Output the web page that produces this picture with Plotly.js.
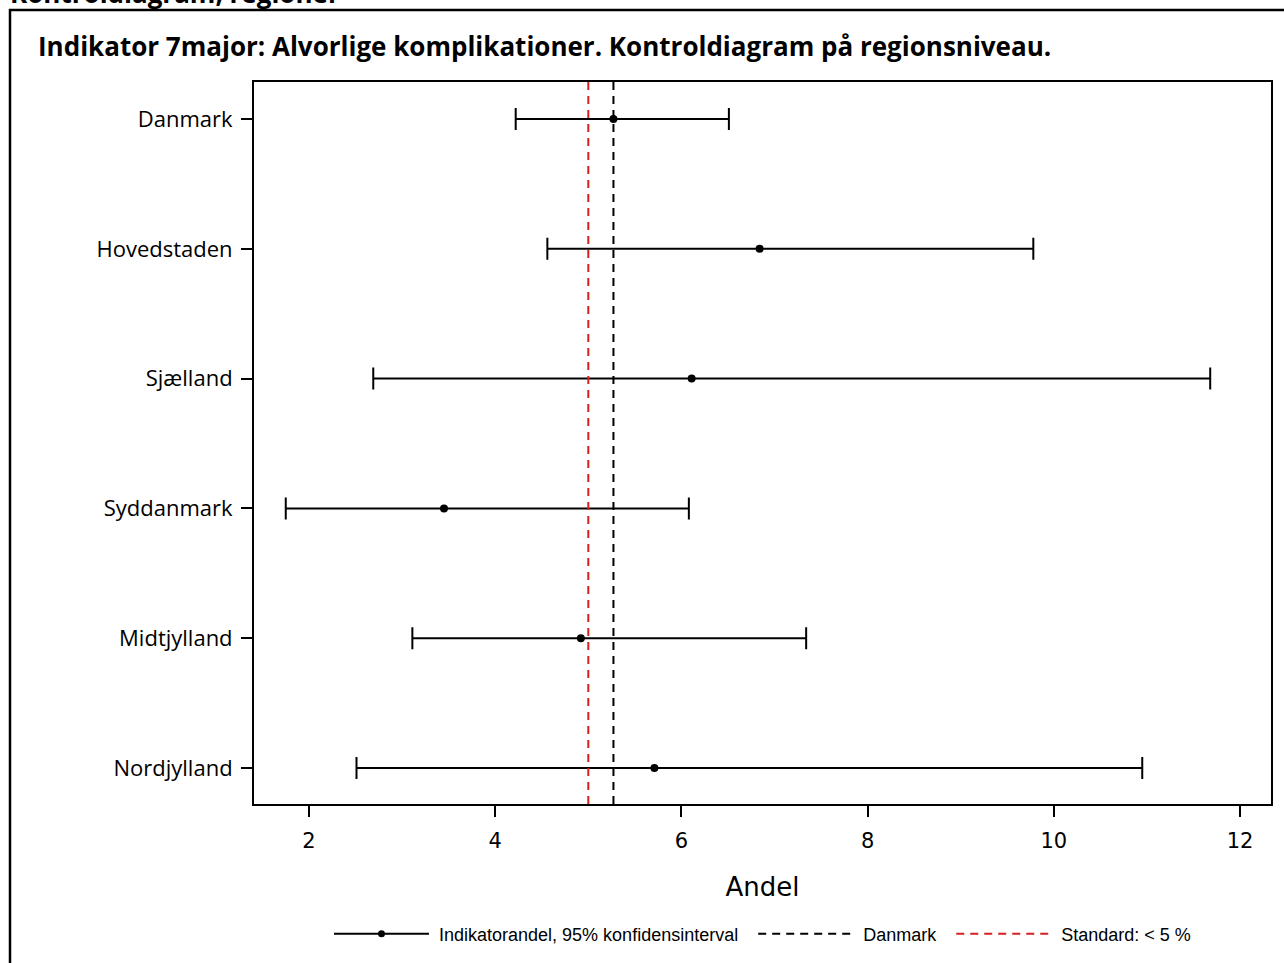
<!DOCTYPE html>
<html>
<head>
<meta charset="utf-8">
<script src="https://cdn.plot.ly/plotly-3.0.1.min.js"></script>
<style>
html,body{margin:0;padding:0;background:#fff;}
#chart{width:1284px;height:963px;}
</style>
</head>
<body>
<div id="chart"></div>
<script>
// ---- data ----
var categories = ["Danmark", "Hovedstaden", "Sjælland", "Syddanmark", "Midtjylland", "Nordjylland"];
var andel      = [5.27, 6.84, 6.11, 3.45, 4.92, 5.71];
var lowerCI    = [4.22, 4.56, 2.69, 1.75, 3.11, 2.51];
var upperCI    = [6.51, 9.78, 11.68, 6.08, 7.34, 10.95];
var danmarkValue = 5.27;
var standardValue = 5.0;
var xTicks = [2, 4, 6, 8, 10, 12];
var legendNames = ["Indikatorandel, 95% konfidensinterval", "Danmark", "Standard: < 5 %"];

// ---- layout helpers ----
var yIdx = categories.map(function (c, i) { return i; });
var yRange = [5.277, -0.285];
var W = 1284, H = 963, L = 254, R = 13, T = 82, B = 158;
var pw = W - L - R, ph = H - T - B;
function px2x(px) { return (px - L) / pw; }
function px2y(py) { return (H - B - py) / ph; }
var NB = "\u00a0";
function pad(s, before, after) { return NB.repeat(before) + s + NB.repeat(after); }

var tracePoints = {
  type: "scatter",
  mode: "markers",
  x: andel,
  y: yIdx,
  name: legendNames[0],
  marker: {color: "black", size: 8, symbol: "circle"},
  error_x: {
    type: "data",
    symmetric: false,
    array: andel.map(function (v, i) { return upperCI[i] - v; }),
    arrayminus: andel.map(function (v, i) { return v - lowerCI[i]; }),
    color: "black",
    thickness: 2,
    width: 11
  },
  showlegend: false,
  hoverinfo: "x+y"
};
// legend entry for the points (line + marker)
var legendPoints = {
  type: "scatter", mode: "lines+markers",
  x: [null], y: [null],
  name: pad(legendNames[0], 1, 2),
  line: {color: "black", width: 2},
  marker: {color: "black", size: 7},
  showlegend: true
};
var traceDK = {
  type: "scatter", mode: "lines",
  x: [danmarkValue, danmarkValue],
  y: yRange,
  name: pad(legendNames[1], 1, 2),
  line: {color: "black", width: 2, dash: "8px,6px"},
  hoverinfo: "skip"
};
var traceStd = {
  type: "scatter", mode: "lines",
  x: [standardValue, standardValue],
  y: yRange,
  name: pad(legendNames[2], 1, 0),
  line: {color: "#d62020", width: 2, dash: "8px,6px"},
  hoverinfo: "skip"
};

var layout = {
  width: W, height: H,
  margin: {l: L, r: R, t: T, b: B, pad: 0},
  paper_bgcolor: "white",
  plot_bgcolor: "white",
  showlegend: true,
  title: {
    text: "<b>Indikator 7major: Alvorlige komplikationer. Kontroldiagram på regionsniveau.</b>",
    font: {family: "Open Sans, sans-serif", size: 26, color: "black"},
    xref: "container", yref: "container",
    x: 38 / W, xanchor: "left",
    y: 1 - 47 / H, yanchor: "middle"
  },
  xaxis: {
    range: [1.409, 12.333],
    tickmode: "array",
    tickvals: xTicks,
    ticktext: xTicks.map(String),
    ticks: "outside", ticklen: 11, tickwidth: 2, tickcolor: "black",
    ticklabelstandoff: 6,
    showline: true, linewidth: 2, linecolor: "black", mirror: true,
    showgrid: false, zeroline: false,
    tickfont: {family: "DejaVu Sans, sans-serif", size: 21, color: "black"},
    title: {text: "Andel", font: {family: "DejaVu Sans, sans-serif", size: 26, color: "black"}, standoff: 26}
  },
  yaxis: {
    range: yRange,
    tickmode: "array",
    tickvals: yIdx,
    ticktext: categories,
    ticks: "outside", ticklen: 11, tickwidth: 2, tickcolor: "black",
    ticklabelstandoff: 4,
    showline: true, linewidth: 2, linecolor: "black", mirror: true,
    showgrid: false, zeroline: false,
    tickfont: {family: "Open Sans, sans-serif", size: 22, color: "black"}
  },
  legend: {
    orientation: "h",
    x: 0.5, xanchor: "center",
    y: px2y(934), yanchor: "middle",
    itemwidth: 95,
    font: {family: "Liberation Sans Narrow, Arial Narrow, sans-serif", size: 18, color: "black"},
    traceorder: "normal",
    bgcolor: "rgba(0,0,0,0)"
  },
  shapes: [{
    type: "rect", xref: "paper", yref: "paper",
    x0: px2x(10), x1: px2x(1300), y0: px2y(980), y1: px2y(10),
    line: {color: "black", width: 2.5}, fillcolor: "rgba(0,0,0,0)", layer: "below"
  }],
  annotations: [{
    text: "<b>Kontroldiagram, regioner</b>",
    xref: "paper", yref: "paper",
    x: px2x(8), xanchor: "left",
    y: px2y(13), yanchor: "bottom",
    showarrow: false,
    font: {family: "Open Sans, sans-serif", size: 26, color: "black"}
  }]
};

Plotly.newPlot("chart", [tracePoints, legendPoints, traceDK, traceStd], layout, {displayModeBar: false, staticPlot: true});
</script>
</body>
</html>
